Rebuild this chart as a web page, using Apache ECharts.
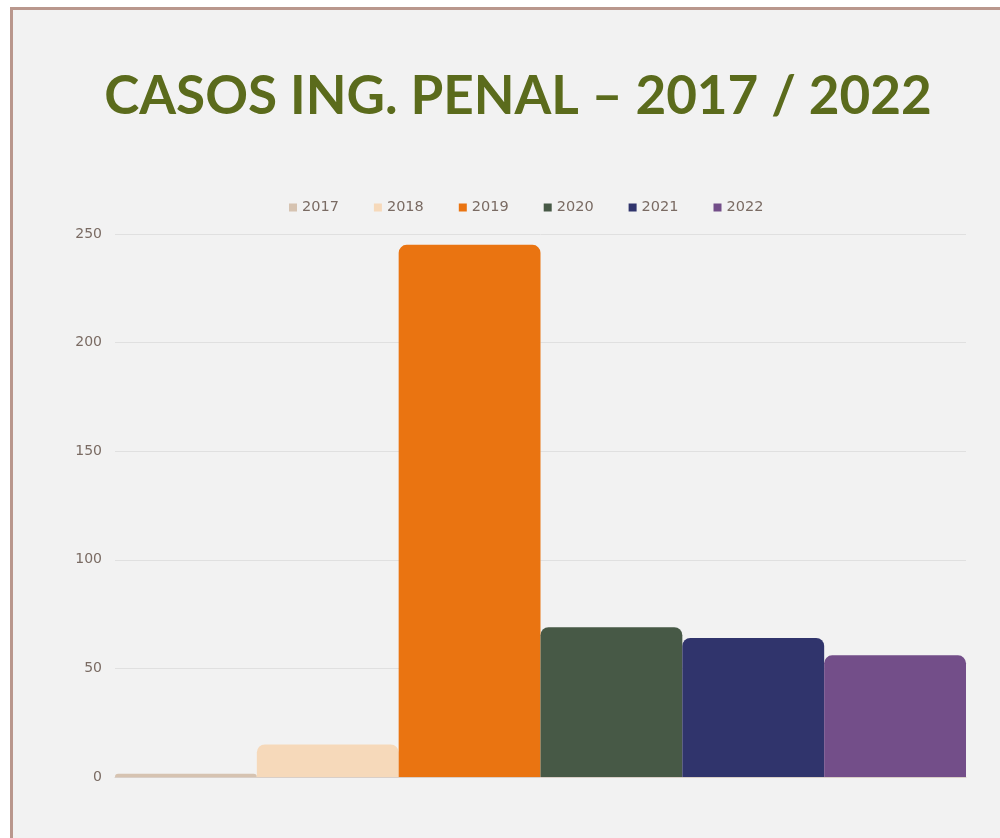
<!DOCTYPE html>
<html>
<head>
<meta charset="utf-8">
<script src="https://cdn.jsdelivr.net/npm/echarts@6/dist/echarts.min.js"></script>
<style>
  html, body { margin: 0; padding: 0; background: #ffffff; }
  #frame {
    position: absolute; left: 10px; top: 7px; width: 1000px; height: 840px;
    background: #f2f2f2; border-left: 3px solid #b9978d; border-top: 3px solid #b9978d;
  }
  #chart { position: absolute; left: 0; top: 0; width: 1000px; height: 838px; }
</style>
</head>
<body>
<div id="frame"></div>
<div id="chart"></div>
<script>
// ─── data ───
const TITLE = "CASOS ING. PENAL – 2017 / 2022";
const YEARS = ["2017", "2018", "2019", "2020", "2021", "2022"];
const CASES = [1.5, 15, 245, 69, 64, 56];
const COLORS = ["#d6c3b1", "#f6d9ba", "#ea7411", "#475946", "#30346c", "#734e89"];
const Y_TICKS = { min: 0, max: 250, interval: 50 };

const chart = echarts.init(document.getElementById("chart"));

// one category, six series side by side (each year is a legend item)
const series = YEARS.map((year, i) => ({
  name: year,
  type: "bar",
  data: [CASES[i]],
  barGap: "0%",
  barCategoryGap: "0%",
  itemStyle: { color: COLORS[i], borderRadius: [8, 8, 0, 0] },
}));

chart.setOption({
  backgroundColor: "transparent",
  animation: false,
  color: COLORS,
  title: {
    text: TITLE,
    left: 513,
    textAlign: "center",
    top: 65,
    textStyle: { fontFamily: "Lato", fontWeight: "bold", fontSize: 53, color: "#5b6b1c" },
  },
  legend: {
    top: 195,
    left: 284,
    icon: "rect",
    itemWidth: 8,
    itemHeight: 8,
    itemGap: 35,
    textStyle: { fontFamily: "DejaVu Sans", fontSize: 14.5, color: "#7a6b63" },
    data: YEARS,
  },
  grid: { left: 115, right: 34, top: 234, bottom: 61 },
  xAxis: {
    type: "category",
    data: [""],
    axisLine: { show: true, lineStyle: { color: "#d9cfc8" } },
    axisTick: { show: false },
    axisLabel: { show: false },
  },
  yAxis: {
    type: "value",
    min: Y_TICKS.min,
    max: Y_TICKS.max,
    interval: Y_TICKS.interval,
    axisLine: { show: false },
    axisTick: { show: false },
    axisLabel: { fontFamily: "DejaVu Sans", fontSize: 14, color: "#7a6b63", margin: 13 },
    splitLine: { lineStyle: { color: "#e0e0e0" } },
  },
  series,
});
</script>
</body>
</html>
